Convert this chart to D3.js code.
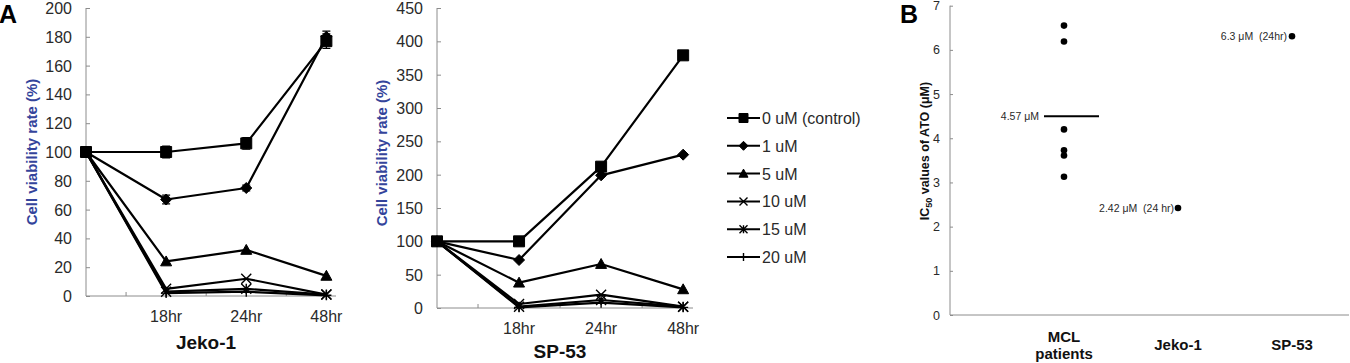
<!DOCTYPE html>
<html>
<head>
<meta charset="utf-8">
<script src="https://cdn.jsdelivr.net/npm/d3@7"></script>
<style>
  body { margin: 0; background: #fff; }
  text { font-family: 'Liberation Sans', Arial, sans-serif; }
</style>
</head>
<body>
<div id="chart"></div>
<script>
// time points (first one is the untreated start, unlabeled)
const timepoints = ['', '18hr', '24hr', '48hr'];
const doses = ['0 uM (control)', '1 uM', '5 uM', '10 uM', '15 uM', '20 uM'];
const markers = ['square', 'diamond', 'triangle', 'times', 'asterisk', 'plus'];

// Jeko-1 viability (%) per dose
const jeko0 = [100, 100, 106, 177];
const jeko1 = [100, 67, 75, 180];
const jeko5 = [100, 24, 32, 14];
const jeko10 = [100, 5, 12, 1];
const jeko15 = [100, 3, 5, 1];
const jeko20 = [100, 2, 3, 0.5];
const jekoErr0 = [0, 4, 4, 5];
const jekoErr1 = [0, 3, 2, 4];
const jekoTicks = [0, 20, 40, 60, 80, 100, 120, 140, 160, 180, 200];

// SP-53 viability (%) per dose
const sp0 = [100, 100, 212, 379];
const sp1 = [100, 72, 199, 230];
const sp5 = [100, 38, 66, 28];
const sp10 = [100, 6, 20, 2];
const sp15 = [100, 2, 12, 2];
const sp20 = [100, 1, 8, 1];
const spTicks = [0, 50, 100, 150, 200, 250, 300, 350, 400, 450];

// panel B: IC50 values (uM)
const icGroups = ['MCL patients', 'Jeko-1', 'SP-53'];
const mclPatients = [6.55, 6.19, 4.2, 3.73, 3.61, 3.13];
const mclMeanLine = 4.5;
const jekoIC50 = 2.42;
const spIC50 = 6.31;
const icTicks = [0, 1, 2, 3, 4, 5, 6, 7];

const svg = d3.select('#chart').append('svg')
  .attr('width', 1350).attr('height', 363);

const axisColor = '#8c8c8c';
const textColor = '#2a2a2a';

function markerPath(type, s) {
  const h = s / 2;
  if (type === 'square') return `M${-h},${-h}H${h}V${h}H${-h}Z`;
  if (type === 'diamond') return `M0,${-h}L${h},0L0,${h}L${-h},0Z`;
  if (type === 'triangle') return `M0,${-h}L${h},${h * 0.8}L${-h},${h * 0.8}Z`;
  if (type === 'times') return `M${-h},${-h}L${h},${h}M${-h},${h}L${h},${-h}`;
  if (type === 'asterisk') return `M${-h},${-h}L${h},${h}M${-h},${h}L${h},${-h}M0,${-h}V${h}`;
  return `M0,${-h}V${h}M${-h},0H${h}`;
}

function drawMarker(g, type, x, y, size) {
  const filled = ['square', 'diamond', 'triangle'].includes(type);
  g.append('path')
    .attr('d', markerPath(type, size))
    .attr('transform', `translate(${x},${y})`)
    .attr('fill', filled ? '#000' : 'none')
    .attr('stroke', '#000')
    .attr('stroke-width', filled ? 1 : 1.4);
}

function drawLinePanel(cfg) {
  const g = svg.append('g');
  const x = d3.scaleLinear().domain([0, 3.12]).range([cfg.left, cfg.right]);
  const y = d3.scaleLinear().domain([0, cfg.max]).range([cfg.bottom, cfg.top]);

  // y axis (ticks point inward)
  const ya = g.append('g')
    .attr('transform', `translate(${cfg.left},0)`)
    .call(d3.axisRight(y).tickValues(cfg.ticks).tickSize(4).tickFormat(''));
  ya.selectAll('line, path').attr('stroke', axisColor);
  ya.select('.domain').attr('d', `M0,${cfg.top}V${cfg.bottom}`);

  g.selectAll('.ylab').data(cfg.ticks).enter().append('text')
    .attr('x', cfg.left - 14).attr('y', d => y(d) + 6)
    .attr('text-anchor', 'end').attr('font-size', 16).attr('fill', textColor)
    .text(d => d);

  // x axis with minor ticks between categories
  g.append('line')
    .attr('x1', cfg.left).attr('x2', cfg.right)
    .attr('y1', cfg.bottom).attr('y2', cfg.bottom)
    .attr('stroke', axisColor);
  g.selectAll('.xt').data([0.5, 1.5, 2.5]).enter().append('line')
    .attr('x1', d => x(d)).attr('x2', d => x(d))
    .attr('y1', cfg.bottom).attr('y2', cfg.bottom - 4)
    .attr('stroke', axisColor);
  g.selectAll('.xlab').data(timepoints).enter().append('text')
    .attr('x', (d, i) => x(i)).attr('y', cfg.catY)
    .attr('text-anchor', 'middle').attr('font-size', 16).attr('fill', textColor)
    .text(d => d);

  g.append('text')
    .attr('x', (cfg.left + cfg.right) / 2 - 5).attr('y', cfg.titleY)
    .attr('text-anchor', 'middle').attr('font-size', 19).attr('font-weight', 'bold')
    .attr('fill', '#111').text(cfg.title);

  g.append('text')
    .attr('transform', `translate(${cfg.yTitleX},${cfg.yTitleY}) rotate(-90)`)
    .attr('text-anchor', 'middle').attr('font-size', 15).attr('font-weight', 'bold')
    .attr('fill', '#34449b').text('Cell viability rate (%)');

  const line = d3.line().x((d, i) => x(i)).y(d => y(d));
  cfg.series.forEach(s => {
    g.append('path').attr('d', line(s)).attr('fill', 'none')
      .attr('stroke', '#000').attr('stroke-width', 2.2).attr('stroke-linejoin', 'round');
  });

  // error bars
  (cfg.errors || []).forEach((errs, k) => {
    errs.forEach((e, i) => {
      if (!e) return;
      const v = cfg.series[k][i];
      const cx = x(i);
      g.append('path')
        .attr('d', `M${cx},${y(v - e)}V${y(v + e)}M${cx - 4},${y(v + e)}H${cx + 4}M${cx - 4},${y(v - e)}H${cx + 4}`)
        .attr('stroke', '#000').attr('stroke-width', 1.3).attr('fill', 'none');
    });
  });

  cfg.series.forEach((s, k) => {
    s.forEach((v, i) => drawMarker(g, markers[k], x(i), y(v), k < 3 ? 11 : 10));
  });
}

drawLinePanel({
  left: 86, right: 336, top: 8, bottom: 296, max: 200, ticks: jekoTicks,
  series: [jeko0, jeko1, jeko5, jeko10, jeko15, jeko20],
  errors: [jekoErr0, jekoErr1],
  catY: 322, title: 'Jeko-1', titleY: 349, yTitleX: 37, yTitleY: 152
});

drawLinePanel({
  left: 437, right: 693, top: 8, bottom: 308, max: 450, ticks: spTicks,
  series: [sp0, sp1, sp5, sp10, sp15, sp20],
  catY: 334, title: 'SP-53', titleY: 358, yTitleX: 387, yTitleY: 153
});

// legend
const legend = svg.append('g');
doses.forEach((d, k) => {
  const ly = 118 + k * 27.8;
  legend.append('line').attr('x1', 727).attr('x2', 760).attr('y1', ly).attr('y2', ly)
    .attr('stroke', '#000').attr('stroke-width', 2);
  drawMarker(legend, markers[k], 743.5, ly, k < 3 ? 9 : 8);
  legend.append('text').attr('x', 762).attr('y', ly + 6)
    .attr('font-size', 16).attr('fill', textColor).text(d);
});

// panel letters
svg.append('text').attr('x', -1).attr('y', 23).attr('font-size', 25)
  .attr('font-weight', 'bold').text('A');
svg.append('text').attr('x', 900).attr('y', 23).attr('font-size', 25)
  .attr('font-weight', 'bold').text('B');

// panel B
const gb = svg.append('g');
const bx = d3.scaleLinear().domain([0, 3.5]).range([950, 1349]);
const by = d3.scaleLinear().domain([0, 7]).range([315, 5.7]);

const bya = gb.append('g').attr('transform', 'translate(950,0)')
  .call(d3.axisRight(by).tickValues(icTicks).tickSize(3).tickFormat(''));
bya.selectAll('line, path').attr('stroke', axisColor);
bya.select('.domain').attr('d', `M0,${by(7)}V${by(0)}`);
gb.append('line').attr('x1', 950).attr('x2', 1349).attr('y1', by(0)).attr('y2', by(0))
  .attr('stroke', axisColor);
gb.selectAll('.bl').data(icTicks).enter().append('text')
  .attr('x', 940).attr('y', d => by(d) + 4.5).attr('text-anchor', 'end')
  .attr('font-size', 12.5).attr('fill', textColor).text(d => d);

const yt = gb.append('text')
  .attr('transform', 'translate(929,151) rotate(-90)')
  .attr('text-anchor', 'middle').attr('font-size', 12.5).attr('font-weight', 'bold')
  .attr('fill', '#111');
yt.append('tspan').text('IC');
yt.append('tspan').attr('font-size', 9).attr('dy', 3).text('50');
yt.append('tspan').attr('dy', -3).text(' values of ATO (μM)');

icGroups.forEach((name, i) => {
  const t = gb.append('text').attr('text-anchor', 'middle').attr('font-size', 15)
    .attr('font-weight', 'bold').attr('fill', '#111');
  const parts = name.split(' ');
  if (parts.length > 1 && name.startsWith('MCL')) {
    t.append('tspan').attr('x', bx(i + 1)).attr('y', 342).text(parts[0]);
    t.append('tspan').attr('x', bx(i + 1)).attr('y', 359).text(parts[1]);
  } else {
    t.attr('x', bx(i + 1)).attr('y', 350).text(name);
  }
});

gb.selectAll('.mcl').data(mclPatients).enter().append('circle')
  .attr('cx', bx(1)).attr('cy', d => by(d)).attr('r', 3.3).attr('fill', '#000');
gb.append('line').attr('x1', 1044).attr('x2', 1099)
  .attr('y1', by(mclMeanLine)).attr('y2', by(mclMeanLine))
  .attr('stroke', '#000').attr('stroke-width', 2);
gb.append('text').attr('x', 1039).attr('y', by(mclMeanLine) + 4)
  .attr('text-anchor', 'end').attr('font-size', 10.5).attr('fill', textColor).text('4.57 μM');

gb.append('circle').attr('cx', bx(2)).attr('cy', by(jekoIC50)).attr('r', 3.3).attr('fill', '#000');
gb.append('text').attr('x', bx(2) - 4).attr('y', by(jekoIC50) + 4)
  .attr('text-anchor', 'end').attr('font-size', 10.5).attr('fill', textColor)
  .attr('xml:space', 'preserve').text('2.42 μM  (24 hr)');

gb.append('circle').attr('cx', bx(3)).attr('cy', by(spIC50)).attr('r', 3.3).attr('fill', '#000');
gb.append('text').attr('x', bx(3) - 5).attr('y', by(spIC50) + 4)
  .attr('text-anchor', 'end').attr('font-size', 10.5).attr('fill', textColor)
  .attr('xml:space', 'preserve').text('6.3 μM  (24hr)');
</script>
</body>
</html>
